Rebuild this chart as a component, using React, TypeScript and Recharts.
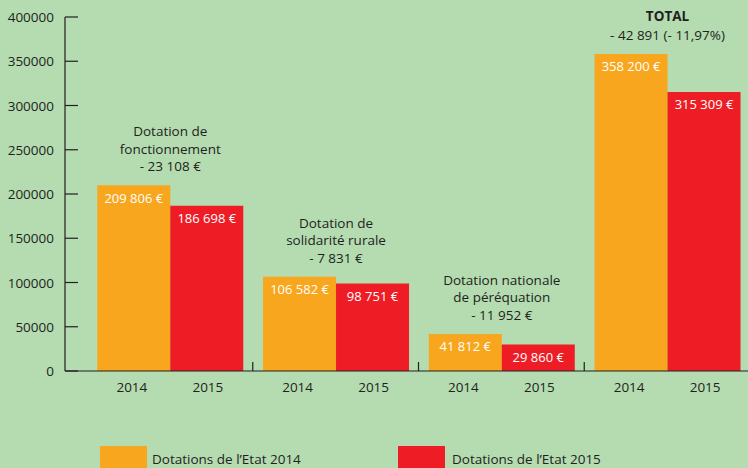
import React from 'react';
import { BarChart, Bar, XAxis, YAxis, LabelList } from 'recharts';

const categories = [
  'Dotation de fonctionnement',
  'Dotation de solidarité rurale',
  'Dotation nationale de péréquation',
  'TOTAL',
];
const dotations2014 = [209806, 106582, 41812, 358200];
const dotations2015 = [186698, 98751, 29860, 315309];
const annotations = [
  ['Dotation de', 'fonctionnement', '- 23 108 €'],
  ['Dotation de', 'solidarité rurale', '- 7 831 €'],
  ['Dotation nationale', 'de péréquation', '- 11 952 €'],
  ['TOTAL', '- 42 891 (- 11,97%)'],
];
const yTicks = [0, 50000, 100000, 150000, 200000, 250000, 300000, 350000, 400000];
const yearLabels = ['2014', '2015'];
const seriesNames = ['Dotations de l’Etat 2014', 'Dotations de l’Etat 2015'];

const data = categories.map((name, i) => ({
  name,
  v2014: dotations2014[i],
  v2015: dotations2015[i],
}));

const W = 748;
const H = 468;
const CHART_W = 750; // the last group runs slightly past the picture edge
const PLOT_LEFT = 65;
const PAD_LEFT = 22;
const BAND = (CHART_W - PLOT_LEFT - PAD_LEFT) / categories.length;
const BG = '#b4dcb0';
const ORANGE = '#f8a61e';
const RED = '#ee1c25';
const INK = '#231f20';
const FONT = '"Open Sans", sans-serif';

const fmt = (v: number) => v.toString().replace(/\B(?=(\d{3})+(?!\d))/g, ' ') + ' €';

const YTick = ({ y, payload }: any) => (
  <g>
    <line x1={PLOT_LEFT} x2={PLOT_LEFT + 13} y1={y} y2={y} stroke={INK} strokeWidth={1.2} />
    <text x={54} y={y} textAnchor="end" dominantBaseline="central" fontSize={13.5} fill={INK} fontFamily={FONT}>
      {payload.value}
    </text>
  </g>
);

const XTick = ({ x, y, index }: any) => {
  const last = index === categories.length - 1;
  const axisY = y - 8;
  return (
    <g>
      {!last && (
        <line x1={x + BAND / 2} x2={x + BAND / 2} y1={axisY} y2={axisY - 9} stroke={INK} strokeWidth={1.2} />
      )}
      {yearLabels.map((yr, k) => (
        <text key={yr} x={x + (k === 0 ? -38 : 38)} y={axisY + 21} textAnchor="middle"
          fontSize={13.5} fill={INK} fontFamily={FONT}>
          {yr}
        </text>
      ))}
    </g>
  );
};

const Annotation = (props: any) => {
  const { x, y, width, index } = props;
  const lines = annotations[index];
  const cx = x + width;
  const step = lines.length === 2 ? 19 : 17.5;
  const base = y - 14;
  return (
    <g>
      {lines.map((ln, k) => (
        <text key={k} x={cx} y={base - (lines.length - 1 - k) * step} textAnchor="middle"
          fontSize={13.5} fill={INK} fontFamily={FONT} fontWeight={ln === 'TOTAL' ? 700 : 400}>
          {ln}
        </text>
      ))}
    </g>
  );
};

export default function App() {
  return (
    <div style={{ position: 'absolute', left: 0, top: 0, width: W, height: H, background: BG, overflow: 'hidden' }}>
      <BarChart width={CHART_W} height={H} data={data} margin={{ top: 17, right: 0, bottom: 67, left: 0 }}
        barCategoryGap="6.2%" barGap={0}>
        <YAxis width={PLOT_LEFT} domain={[0, 400000]} ticks={yTicks} interval={0} tickLine={false}
          axisLine={{ stroke: INK, strokeWidth: 1.2 }} tick={<YTick />} />
        <XAxis dataKey="name" height={30} padding={{ left: PAD_LEFT, right: 0 }} tickLine={false} interval={0}
          axisLine={{ stroke: INK, strokeWidth: 1.2 }} tick={<XTick />} />
        <Bar dataKey="v2014" name={seriesNames[0]} fill={ORANGE} isAnimationActive={false}>
          <LabelList dataKey="v2014" position="insideTop" offset={8} formatter={fmt as any}
            fill="#ffffff" fontSize={13} fontFamily={FONT} />
          <LabelList dataKey="name" content={<Annotation />} />
        </Bar>
        <Bar dataKey="v2015" name={seriesNames[1]} fill={RED} isAnimationActive={false}>
          <LabelList dataKey="v2015" position="insideTop" offset={8} formatter={fmt as any}
            fill="#ffffff" fontSize={13} fontFamily={FONT} />
        </Bar>
      </BarChart>
      {[ORANGE, RED].map((c, i) => (
        <React.Fragment key={c}>
          <div style={{ position: 'absolute', left: i === 0 ? 100 : 398, top: 446, width: 47, height: 30, background: c }} />
          <div style={{ position: 'absolute', left: i === 0 ? 152 : 452, top: 451, fontFamily: FONT, fontSize: 13.5,
            lineHeight: '16px', color: INK, whiteSpace: 'nowrap' }}>
            {seriesNames[i]}
          </div>
        </React.Fragment>
      ))}
    </div>
  );
}
